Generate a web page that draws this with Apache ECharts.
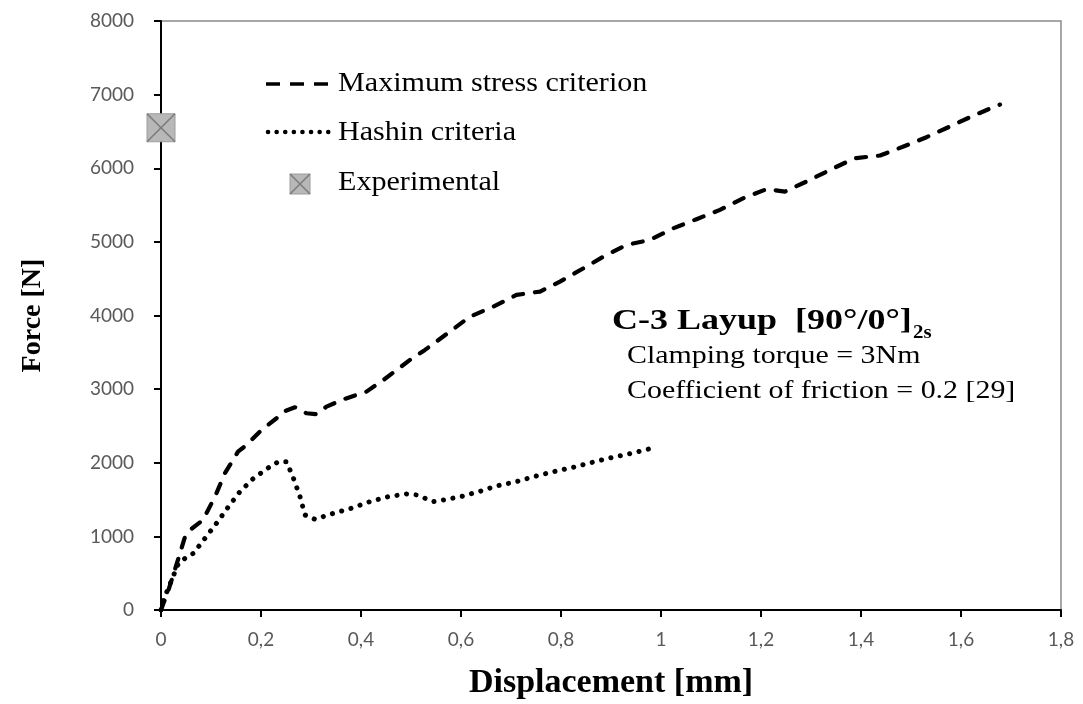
<!DOCTYPE html>
<html><head><meta charset="utf-8">
<script src="https://cdn.jsdelivr.net/npm/echarts@6/dist/echarts.min.js"></script>
<style>html,body{margin:0;padding:0;background:#fff}#c{width:1083px;height:704px}</style>
</head><body><div id="c"></div>
<script>
// Maximum stress criterion (dashed)
const dispMax = [0, 0.015, 0.038, 0.048, 0.058, 0.084, 0.108, 0.128, 0.154, 0.171, 0.201, 0.231, 0.245, 0.268, 0.291, 0.311, 0.331, 0.365, 0.391, 0.411, 0.445, 0.498, 0.528, 0.578, 0.618, 0.665, 0.711, 0.758, 0.798, 0.845, 0.885, 0.931, 0.978, 1.025, 1.071, 1.118, 1.165, 1.211, 1.248, 1.298, 1.345, 1.388, 1.438, 1.485, 1.531, 1.575, 1.621, 1.665, 1.678];
const forceMax = [0, 272, 770, 996, 1087, 1223, 1540, 1860, 2150, 2240, 2445, 2604, 2694, 2754, 2672, 2659, 2763, 2862, 2921, 2966, 3125, 3397, 3533, 3782, 3985, 4121, 4280, 4325, 4461, 4642, 4800, 4959, 5027, 5186, 5308, 5435, 5594, 5716, 5683, 5842, 6001, 6137, 6173, 6295, 6422, 6558, 6703, 6830, 6865];
// Hashin criteria (dotted)
const dispHashin = [0, 0.005, 0.035, 0.048, 0.065, 0.088, 0.111, 0.135, 0.158, 0.185, 0.218, 0.235, 0.251, 0.265, 0.278, 0.288, 0.308, 0.345, 0.381, 0.418, 0.455, 0.491, 0.511, 0.545, 0.565, 0.6, 0.636, 0.671, 0.711, 0.746, 0.786, 0.825, 0.861, 0.896, 0.936, 0.978];
const forceHashin = [0, 136, 634, 702, 770, 974, 1178, 1404, 1608, 1789, 1947, 2015, 2015, 1789, 1540, 1291, 1232, 1314, 1382, 1472, 1540, 1576, 1563, 1472, 1495, 1540, 1608, 1685, 1744, 1812, 1880, 1939, 2003, 2062, 2120, 2190];
// Experimental
const expDisp = [0];
const expForce = [6550];
const seriesNames = ['Maximum stress criterion', 'Hashin criteria', 'Experimental'];
const xTitle = 'Displacement [mm]';
const yTitle = 'Force [N]';
const noteTitle = 'C-3 Layup  [90°/0°]';
const noteSub = '2s';
const noteLines = ['Clamping torque = 3Nm', 'Coefficient of friction = 0.2 [29]'];

const zip = (a, b) => a.map((v, i) => [v, b[i]]);
const serif = '"Liberation Serif","Times New Roman",serif';
const sans = 'Lato, "Open Sans", sans-serif';

function xMarker(cx, cy, s) {
  return [
    {type: 'rect', shape: {x: cx - s / 2, y: cy - s / 2, width: s, height: s}, style: {fill: '#b8b8b8', stroke: '#9c9c9c', lineWidth: 1}},
    {type: 'line', shape: {x1: cx - s / 2, y1: cy - s / 2, x2: cx + s / 2, y2: cy + s / 2}, style: {stroke: '#7c7c7c', lineWidth: 1.6}},
    {type: 'line', shape: {x1: cx + s / 2, y1: cy - s / 2, x2: cx - s / 2, y2: cy + s / 2}, style: {stroke: '#7c7c7c', lineWidth: 1.6}}
  ];
}

const chart = echarts.init(document.getElementById('c'), null, {renderer: 'canvas'});
chart.setOption({
  animation: false,
  backgroundColor: '#fff',
  grid: {left: 161, right: 22, top: 21, bottom: 94, show: true, borderColor: '#8a8a8a', borderWidth: 1.5,
    containLabel: false, outerBoundsMode: 'none'},
  xAxis: {
    type: 'value', min: 0, max: 1.8, interval: 0.2,
    name: xTitle, nameLocation: 'middle', nameGap: 56,
    nameTextStyle: {fontFamily: serif, fontWeight: 'bold', fontSize: 34, color: '#000'},
    axisLine: {onZero: false, lineStyle: {color: '#000', width: 2}},
    axisTick: {show: true, length: 7, lineStyle: {color: '#000', width: 2}},
    axisLabel: {margin: 20, fontFamily: sans, fontSize: 19, color: '#595959',
      formatter: v => String(Math.round(v * 10) / 10).replace('.', ',')},
    splitLine: {show: false}
  },
  yAxis: {
    type: 'value', min: 0, max: 8000, interval: 1000,
    name: yTitle, nameLocation: 'middle', nameGap: 114, nameRotate: 90,
    nameTextStyle: {fontFamily: serif, fontWeight: 'bold', fontSize: 28, color: '#000'},
    axisLine: {show: true, onZero: false, lineStyle: {color: '#000', width: 2}},
    axisTick: {show: true, length: 7, lineStyle: {color: '#000', width: 2}},
    axisLabel: {margin: 27, fontFamily: sans, fontSize: 19, color: '#595959', formatter: v => String(v)},
    splitLine: {show: false}
  },
  series: [
    {type: 'line', name: seriesNames[0], data: zip(dispMax, forceMax), symbol: 'none', showSymbol: false,
      lineStyle: {color: '#000', width: 4.2, type: [10, 12], cap: 'round', join: 'round'}, z: 3},
    {type: 'line', name: seriesNames[1], data: zip(dispHashin, forceHashin), symbol: 'none', showSymbol: false,
      lineStyle: {color: '#000', width: 5, type: [0.1, 9.5], cap: 'round', join: 'round'}, z: 3},
    {type: 'custom', name: seriesNames[2], data: zip(expDisp, expForce), clip: false, z: 5,
      renderItem: (params, api) => {
        const p = api.coord([api.value(0), api.value(1)]);
        return {type: 'group', children: xMarker(p[0], p[1], 28)};
      }}
  ],
  graphic: [
    {type: 'line', shape: {x1: 266, y1: 84, x2: 331, y2: 84}, style: {stroke: '#000', lineWidth: 3.5, lineDash: [14, 10]}},
    {type: 'line', shape: {x1: 268, y1: 132, x2: 329, y2: 132}, style: {stroke: '#000', lineWidth: 4.5, lineDash: [0.1, 8.5], lineCap: 'round'}},
    {type: 'group', children: xMarker(300, 184, 20)},
    {type: 'text', x: 338, y: 84, scaleX: 1.115, style: {text: seriesNames[0], font: '27px ' + serif, fill: '#000', verticalAlign: 'middle'}},
    {type: 'text', x: 338, y: 133, scaleX: 1.115, style: {text: seriesNames[1], font: '27px ' + serif, fill: '#000', verticalAlign: 'middle'}},
    {type: 'text', x: 338, y: 183, scaleX: 1.115, style: {text: seriesNames[2], font: '27px ' + serif, fill: '#000', verticalAlign: 'middle'}},
    {type: 'text', x: 612, y: 321, scaleX: 1.2, style: {text: noteTitle, font: 'bold 30px ' + serif, fill: '#000', verticalAlign: 'middle'}},
    {type: 'text', x: 913, y: 333, scaleX: 1.1, style: {text: noteSub, font: 'bold 19px ' + serif, fill: '#000', verticalAlign: 'middle'}},
    {type: 'text', x: 627, y: 356, scaleX: 1.15, style: {text: noteLines[0], font: '26px ' + serif, fill: '#000', verticalAlign: 'middle'}},
    {type: 'text', x: 627, y: 391, scaleX: 1.15, style: {text: noteLines[1], font: '26px ' + serif, fill: '#000', verticalAlign: 'middle'}}
  ]
});
</script>
</body></html>
